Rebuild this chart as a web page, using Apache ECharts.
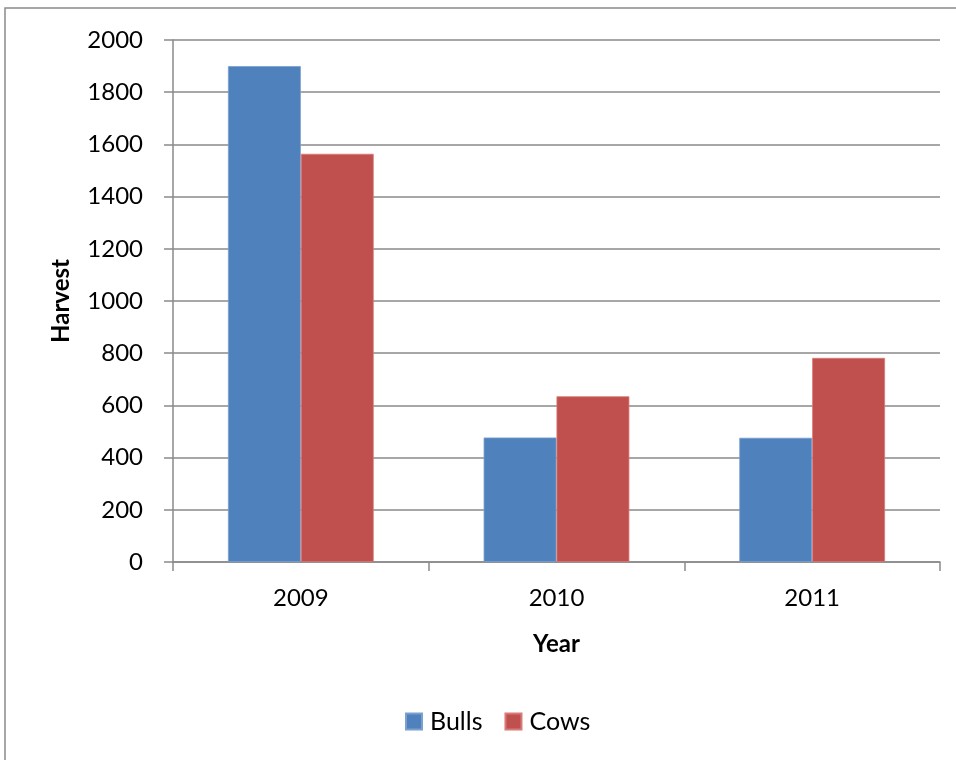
<!DOCTYPE html>
<html>
<head>
<meta charset="utf-8">
<script src="https://cdn.jsdelivr.net/npm/echarts@6/dist/echarts.min.js"></script>
<style>
  html, body { margin: 0; padding: 0; background: #fff; }
  #chart { width: 956px; height: 760px; }
</style>
</head>
<body>
<div id="chart"></div>
<script>
// Harvest counts per year
const years = ['2009', '2010', '2011'];
const bulls = [1900, 477, 476];
const cows = [1564, 635, 782];
const yTicks = { min: 0, max: 2000, interval: 200 };

const FONT = 'Lato, "Open Sans", sans-serif';
const GRID = '#8a8a8a';
const FS = 24;

const chart = echarts.init(document.getElementById('chart'));
chart.setOption({
  animation: false,
  backgroundColor: '#fff',
  textStyle: { fontFamily: FONT },
  graphic: [{
    type: 'rect',
    shape: { x: 5, y: 8, width: 1000, height: 800 },
    style: { fill: 'none', stroke: '#8a8a8a', lineWidth: 1.5 },
    silent: true
  }],
  grid: { left: 173, top: 40, right: 16, bottom: 198 },
  legend: {
    top: 704,
    left: 400,
    itemWidth: 16,
    itemHeight: 16,
    itemGap: 22,
    icon: 'rect',
    textStyle: { fontSize: 25, color: '#000', fontFamily: FONT, padding: [0, 0, 0, 3] },
    data: ['Bulls', 'Cows']
  },
  xAxis: {
    type: 'category',
    data: years,
    name: 'Year',
    nameLocation: 'middle',
    nameGap: 70,
    nameTextStyle: { fontSize: FS, fontWeight: 'bold', color: '#000', fontFamily: FONT },
    axisLine: { lineStyle: { color: GRID, width: 1.5 } },
    axisTick: { show: true, length: 9, alignWithLabel: false, lineStyle: { color: GRID, width: 1.5 } },
    axisLabel: { fontSize: FS, color: '#000', margin: 24, fontFamily: FONT }
  },
  yAxis: {
    type: 'value',
    min: yTicks.min,
    max: yTicks.max,
    interval: yTicks.interval,
    name: 'Harvest',
    nameLocation: 'middle',
    nameGap: 100,
    nameRotate: 90,
    nameTextStyle: { fontSize: FS, fontWeight: 'bold', color: '#000', fontFamily: FONT },
    axisLine: { show: true, lineStyle: { color: GRID, width: 1.5 } },
    axisTick: { show: true, length: 9, lineStyle: { color: GRID, width: 1.5 } },
    axisLabel: { fontSize: FS, color: '#000', margin: 30, fontFamily: FONT, formatter: v => String(v) },
    splitLine: { show: true, lineStyle: { color: GRID, width: 1.5 } }
  },
  series: [
    {
      name: 'Bulls',
      type: 'bar',
      data: bulls,
      barGap: '0%',
      barCategoryGap: '43%',
      itemStyle: { color: '#4f81bd', borderColor: '#7a9fd0', borderWidth: 0.8 }
    },
    {
      name: 'Cows',
      type: 'bar',
      data: cows,
      barGap: '0%',
      barCategoryGap: '43%',
      itemStyle: { color: '#c0504d', borderColor: '#d87a77', borderWidth: 0.8 }
    }
  ]
});
</script>
</body>
</html>
